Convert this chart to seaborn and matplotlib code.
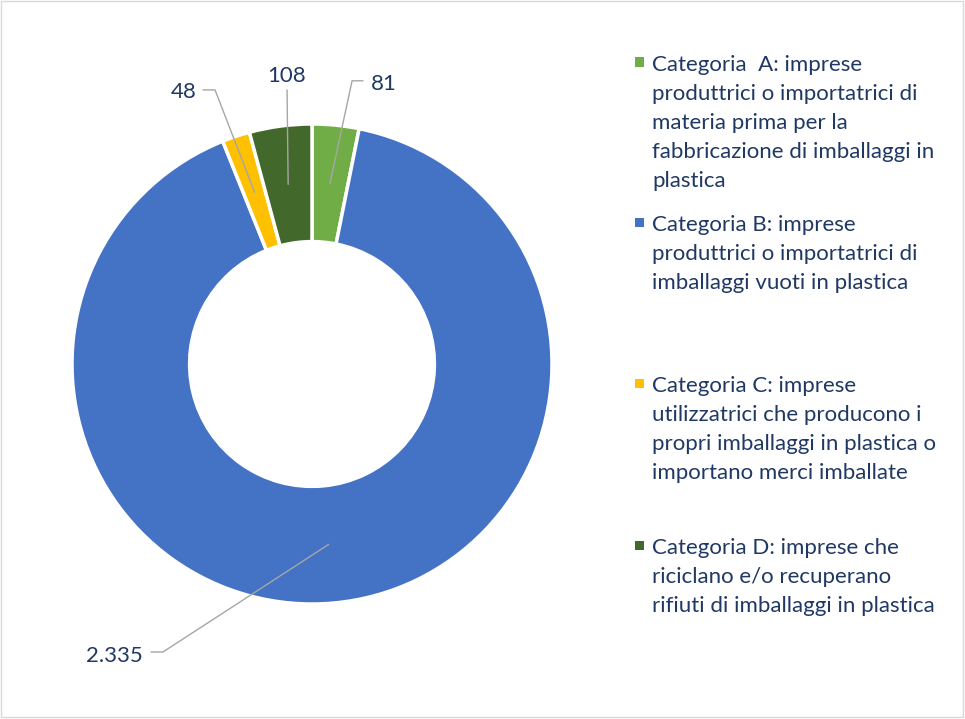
import matplotlib
matplotlib.use("Agg")
import matplotlib.pyplot as plt
import seaborn as sns
import numpy as np
from matplotlib.patches import Rectangle

sns.set_theme(style="white")
plt.rcParams['font.family'] = ['Lato', 'DejaVu Sans']

# ---- data ----
categories = ["Categoria  A", "Categoria B", "Categoria C", "Categoria D"]
values = [81, 2335, 48, 108]
colors = ["#70AD47", "#4472C4", "#FFC000", "#43682B"]
legend_lines = [
    ["Categoria  A: imprese", "produttrici o importatrici di", "materia prima per la",
     "fabbricazione di imballaggi in", "plastica"],
    ["Categoria B: imprese", "produttrici o importatrici di", "imballaggi vuoti in plastica"],
    ["Categoria C: imprese", "utilizzatrici che producono i", "propri imballaggi in plastica o",
     "importano merci imballate"],
    ["Categoria D: imprese che", "riciclano e/o recuperano", "rifiuti di imballaggi in plastica"],
]

TXT = "#203864"
FS = 16
W, H = 965, 719

fig = plt.figure(figsize=(W / 100, H / 100), dpi=100)
# donut center (312,364) px, outer radius 240 px
ax = fig.add_axes([72 / W, (H - 364 - 240) / H, 480 / W, 480 / H])
wedges, _ = ax.pie(values, colors=colors, startangle=90, counterclock=False, radius=1,
                   wedgeprops=dict(width=0.49, edgecolor="white", linewidth=2.5))
ax.set_xlim(-1, 1)
ax.set_ylim(-1, 1)
ax.set_aspect("equal")
ax.axis("off")

# label placement (data units) in category order A, B, C, D
label_pos = [(0.246, 1.142, "left"), (-0.704, -1.242, "right"),
             (-0.479, 1.108, "right"), (-0.104, 1.175, "center")]
leader_pts = [[(0.2125, 1.18), (0.167, 1.18)],
              [(-0.671, -1.20), (-0.621, -1.20)],
              [(-0.454, 1.142), (-0.404, 1.142)],
              [(-0.104, 1.142)]]

r_mid = 1 - 0.49 / 2
for w, v, (tx, ty, ha), pts in zip(wedges, values, label_pos, leader_pts):
    ang = np.deg2rad((w.theta1 + w.theta2) / 2)
    anchor = (r_mid * np.cos(ang), r_mid * np.sin(ang))
    path = pts + [anchor]
    ax.plot([p[0] for p in path], [p[1] for p in path], color="#A6A6A6", lw=1,
            clip_on=False, zorder=5)
    ax.text(tx, ty, f"{v:,}".replace(",", "."), ha=ha, va="baseline", fontsize=FS,
            color=TXT, clip_on=False)

# legend (manual, Excel-like spacing)
first_baselines = [71, 231, 392, 554]
pitch = 29
for lines, col, b0 in zip(legend_lines, colors, first_baselines):
    cy = b0 - 9
    fig.patches.append(Rectangle(((639 - 4.5) / W, 1 - (cy + 4.5) / H), 9 / W, 9 / H,
                                 transform=fig.transFigure, facecolor=col,
                                 edgecolor="none"))
    for i, ln in enumerate(lines):
        fig.text(652 / W, 1 - (b0 + i * pitch) / H, ln, ha="left", va="baseline",
                 fontsize=FS, color=TXT)

# outer frame
fig.patches.append(Rectangle((1 / W, 2 / H), 962 / W, 716 / H, transform=fig.transFigure,
                             facecolor="none", edgecolor="#D9D9D9", lw=1))

fig.savefig("out.png", dpi=100, facecolor="white")
